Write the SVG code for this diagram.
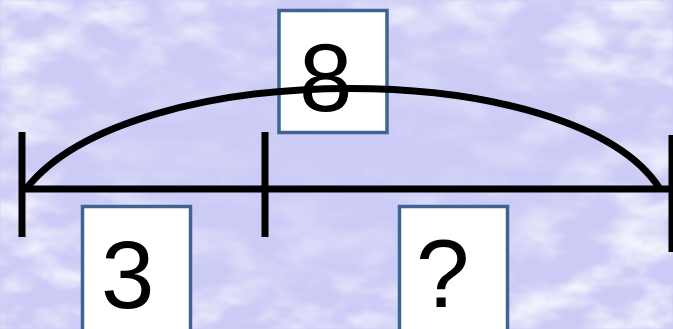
<svg xmlns="http://www.w3.org/2000/svg" width="673" height="329" viewBox="0 0 673 329">
  <defs>
    <filter id="snow" x="0" y="0" width="100%" height="100%">
      <feTurbulence type="fractalNoise" baseFrequency="0.018 0.035" numOctaves="4" seed="7" result="n"/>
      <feColorMatrix in="n" type="matrix" values="0 0 0 0 1  0 0 0 0 1  0 0 0 0 1  2.6 0 0 0 -1.05" result="w"/>
      <feGaussianBlur in="w" stdDeviation="1.2"/>
    </filter>
    <radialGradient id="fade" cx="0.5" cy="0.45" r="0.6">
      <stop offset="0" stop-color="#000"/>
      <stop offset="0.55" stop-color="#666"/>
      <stop offset="1" stop-color="#fff"/>
    </radialGradient>
    <mask id="m">
      <rect width="673" height="329" fill="url(#fade)"/>
    </mask>
    <style>
      .box{fill:#ffffff;stroke:#3f6491;stroke-width:3.5}
      .num{font-family:"Liberation Sans",Arial,sans-serif;font-size:96px;fill:#000}
      .ln{stroke:#000;stroke-width:7;fill:none}
    </style>
  </defs>
  <rect width="673" height="329" fill="#cbcbf6"/>
  <rect width="673" height="329" filter="url(#snow)" mask="url(#m)" opacity="0.9"/>

  <g id="connectors">
    <path class="ln" d="M 24 189 L 673 189"/>
    <line class="ln" x1="22" y1="132" x2="22" y2="237"/>
    <line class="ln" x1="265" y1="132" x2="265" y2="237"/>
    <line class="ln" x1="672" y1="135" x2="672" y2="252"/>
  </g>

  <g id="node-8">
    <rect class="box" x="279" y="10.5" width="108" height="122"/>
    <text class="num" x="299" y="111">8</text>
  </g>

  <g id="arc">
    <path class="ln" d="M 26 189 C 130 55 575 55 660 189"/>
  </g>

  <g id="node-3">
    <rect class="box" x="82.5" y="206.5" width="108" height="130"/>
    <text class="num" x="101" y="308">3</text>
  </g>

  <g id="node-q">
    <rect class="box" x="399.5" y="206.5" width="108" height="130"/>
    <text class="num" x="416" y="307">?</text>
  </g>
</svg>
